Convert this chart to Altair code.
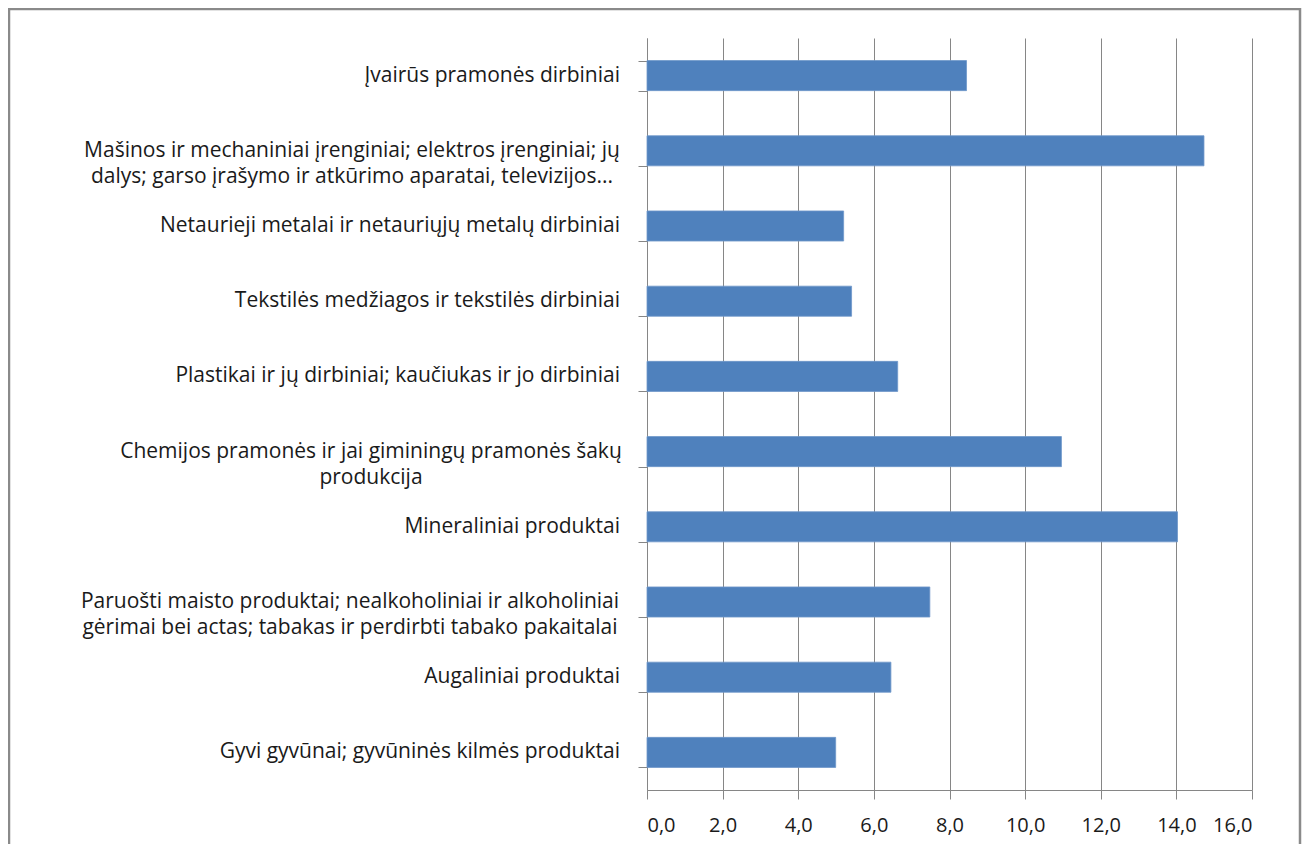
import altair as alt
import pandas as pd

categories = [
    "Įvairūs pramonės dirbiniai",
    "Mašinos ir mechaniniai įrenginiai; elektros įrenginiai; jų|dalys; garso įrašymo ir atkūrimo aparatai, televizijos...",
    "Netaurieji metalai ir netauriųjų metalų dirbiniai",
    "Tekstilės medžiagos ir tekstilės dirbiniai",
    "Plastikai ir jų dirbiniai; kaučiukas ir jo dirbiniai",
    "Chemijos pramonės ir jai giminingų pramonės šakų|produkcija",
    "Mineraliniai produktai",
    "Paruošti maisto produktai; nealkoholiniai ir alkoholiniai|gėrimai bei actas; tabakas ir perdirbti tabako pakaitalai",
    "Augaliniai produktai",
    "Gyvi gyvūnai; gyvūninės kilmės produktai\u2007",
]
values = [8.45, 14.73, 5.2, 5.41, 6.63, 10.96, 14.03, 7.48, 6.45, 4.99]
x_ticks = [0, 2, 4, 6, 8, 10, 12, 14, 16]

df = pd.DataFrame({"cat": categories, "val": values})

FONT = "Open Sans"
GRAY = "#868686"
TXT = "#1a1a1a"

y_enc = alt.Y(
    "cat:N",
    sort=categories,
    scale=alt.Scale(paddingInner=0.6, paddingOuter=0.3),
    axis=alt.Axis(
        title=None,
        labels=False,
        tickBand="extent",
        tickSize=9,
        tickColor=GRAY,
        domainColor=GRAY,
        grid=False,
    ),
)

base = alt.Chart(df)

bars = base.mark_bar(color="#4F81BD", stroke="#6f97c9", strokeWidth=0.8).encode(
    x=alt.X(
        "val:Q",
        scale=alt.Scale(domain=[0, 16], nice=False, zero=True),
        axis=alt.Axis(
            values=x_ticks,
            title=None,
            labelExpr="replace(format(datum.value, '.1f'), '.', ',')",
            labelFont=FONT,
            labelFontSize=20,
            labelColor=TXT,
            labelPadding=16,
            tickSize=9,
            tickColor=GRAY,
            domainColor=GRAY,
            gridColor=GRAY,
            gridWidth=1,
            grid=True,
        ),
    ),
    y=y_enc,
)

def label_layer(test, align, xpos):
    return (
        base.transform_filter(test)
        .transform_calculate(lines="split(datum.cat, '|')")
        .mark_text(
            align=align,
            baseline="middle",
            font=FONT,
            fontSize=21,
            lineHeight=26,
            color=TXT,
        )
        .encode(y=y_enc, x=alt.value(xpos), text="lines:N")
    )

lab_single = label_layer("indexof(datum.cat, '|') < 0", "right", -27)
lab_m1 = label_layer("indexof(datum.cat, 'Mašinos') == 0", "center", -295)
lab_m2 = label_layer("indexof(datum.cat, 'Chemijos') == 0", "center", -276)
lab_m3 = label_layer("indexof(datum.cat, 'Paruošti') == 0", "center", -297)

frame = alt.Chart(pd.DataFrame({"k": [0]})).mark_rect(
    filled=False, stroke="#8a8a8a", strokeWidth=2.5
).encode(
    x=alt.value(-638), x2=alt.value(653), y=alt.value(-29), y2=alt.value(860)
)

chart = alt.layer(bars, lab_single, lab_m1, lab_m2, lab_m3, frame).properties(
    width=605,
    height=752,
    padding={"left": 639, "top": 30, "right": 50, "bottom": 54},
    autosize=alt.AutoSizeParams(type="none"),
    background="white",
).configure_view(stroke=None)

chart.save("out.html", embed_options={"renderer": "svg", "actions": False})
